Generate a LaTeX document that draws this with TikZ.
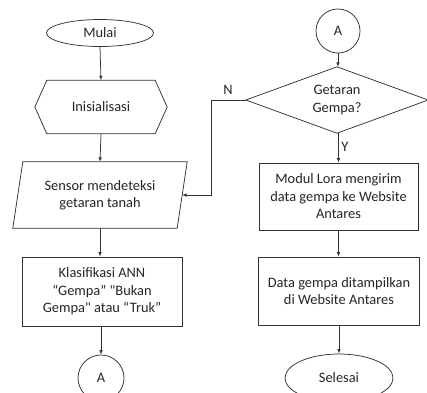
\documentclass[tikz,border=0pt]{standalone}
\usepackage{fontspec}
\newfontfamily\carl{Carlito}
\usetikzlibrary{shapes.geometric,arrows.meta}
\begin{document}
\begin{tikzpicture}[x=1pt,y=-1pt,
  txt/.style={font=\carl\fontsize{14.4}{17.5}\selectfont, text=black!85, align=center, inner sep=0pt},
  line/.style={draw=black!80, line width=0.75pt},
  arr/.style={line, -{Latex[length=4.5pt,width=3.6pt]}},
  procbox/.style={txt, rectangle, line},
  termin/.style={txt, ellipse, line},
  conn/.style={txt, circle, line},
  ghost/.style={txt, rectangle}
]
\path[use as bounding box, fill=white] (0,0) rectangle (427,392);
\clip (0,0) rectangle (427,392);

% left column
\node[termin, minimum width=107pt, minimum height=27pt] (mulai) at (100,33) {Mulai};
\node[ghost, minimum width=132pt, minimum height=53pt] (init) at (101,107) {Inisialisasi};
\draw[line] ([xshift=12pt]init.north west) -- ([xshift=-12pt]init.north east) -- (init.east)
  -- ([xshift=-12pt]init.south east) -- ([xshift=12pt]init.south west) -- (init.west) -- cycle;
\node[ghost, minimum width=164pt, minimum height=66pt] (sensor) at (100,195) {Sensor mendeteksi\\getaran tanah};
\draw[line] ([xshift=5pt]sensor.north west) -- ([xshift=5pt]sensor.north east)
  -- ([xshift=-5pt]sensor.south east) -- ([xshift=-5pt]sensor.south west) -- cycle;
\node[procbox, minimum width=160pt, minimum height=69pt] (klas) at (102,291.5) {Klasifikasi ANN\\“Gempa” "Bukan\\Gempa" atau “Truk”};
\node[conn, minimum size=46pt] (a1) at (101,378) {A};

% right column
\node[conn, minimum size=44pt] (a2) at (338,31) {A};
\node[ghost, minimum width=182pt, minimum height=66pt] (dia) at (337,100) {Getaran\\Gempa?};
\draw[line] (dia.north) -- (dia.east) -- (dia.south) -- (dia.west) -- cycle;
\node[procbox, minimum width=159pt, minimum height=67pt] (modul) at (338.5,196.5) {Modul Lora mengirim\\data gempa ke Website\\Antares};
\node[procbox, minimum width=161pt, minimum height=68pt] (data) at (339,291) {Data gempa ditampilkan\\di Website Antares};
\node[termin, minimum width=108pt, minimum height=48pt] (selesai) at (339,378) {Selesai};

% connectors
\draw[arr] (mulai.south) -- (init.north);
\draw[arr] (init.south) -- (sensor.north);
\draw[arr] (sensor.south) -- (sensor.south |- klas.north);
\draw[arr] (klas.south -| a1.north) -- (a1.north);
\draw[arr] (a2.south) -- (a2.south |- dia.north);
\draw[arr] (dia.south -| modul.north) -- (modul.north);
\draw[arr] (modul.south) -- (modul.south |- data.north);
\draw[arr] (data.south -| selesai.north) -- (selesai.north);
\coordinate (nturn) at (211,100);
\draw[arr] (dia.west) -- (nturn) |- (sensor.east);
\node[txt] (nlab) at (228,90) {N};
\node[txt] (ylab) at (345,147) {Y};
\end{tikzpicture}
\end{document}
